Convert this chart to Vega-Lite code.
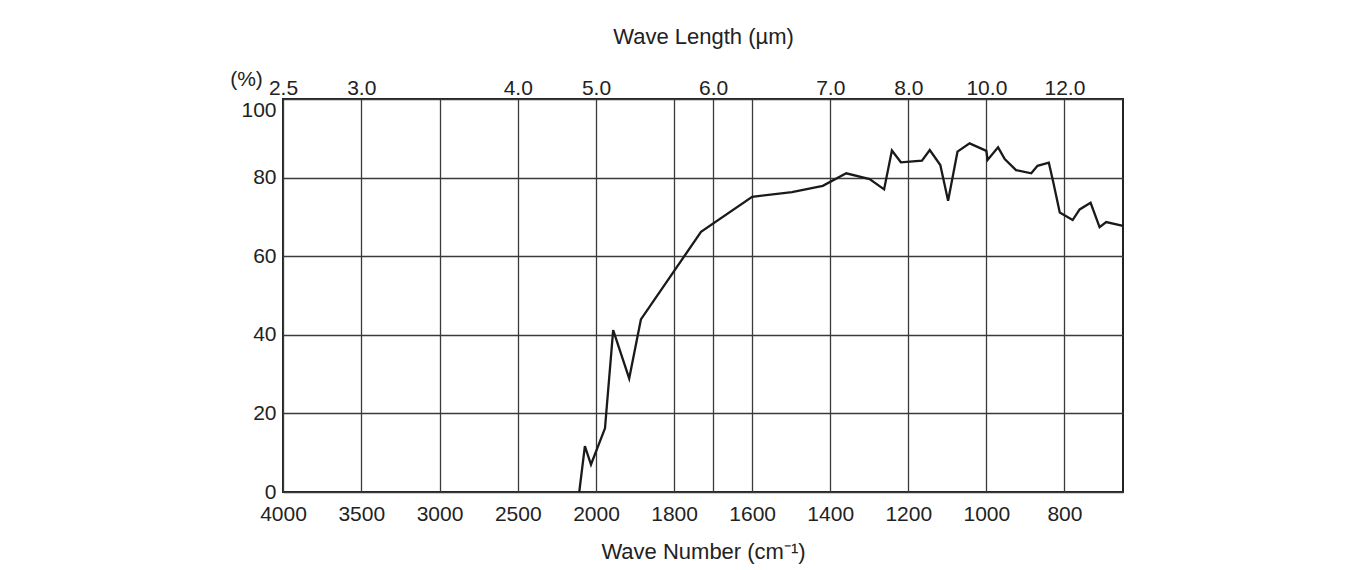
{
  "$schema": "https://vega.github.io/schema/vega-lite/v6.json",
  "width": 840,
  "height": 393,
  "autosize": {"type": "none"},
  "padding": {"left": 283, "top": 99, "right": 239, "bottom": 78},
  "background": "white",
  "config": {
    "view": {"stroke": "#222222", "strokeWidth": 2},
    "axis": {
      "labelFont": "Liberation Sans",
      "titleFont": "Liberation Sans",
      "labelFontSize": 21,
      "titleFontSize": 22,
      "labelColor": "#222222",
      "titleColor": "#222222",
      "titleFontWeight": "normal",
      "domain": false,
      "ticks": false,
      "tickSize": 0,
      "gridColor": "#3a3a3a",
      "gridWidth": 1.3,
      "gridOpacity": 1
    }
  },
  "data": {
    "values": [
      {"wn": 2107, "t": 0},
      {"wn": 2071, "t": 11.7},
      {"wn": 2032, "t": 7.0},
      {"wn": 1977, "t": 16.2},
      {"wn": 1956, "t": 41.2},
      {"wn": 1915, "t": 28.9},
      {"wn": 1885, "t": 43.9},
      {"wn": 1731, "t": 66.2},
      {"wn": 1600, "t": 75.1},
      {"wn": 1498, "t": 76.3},
      {"wn": 1419, "t": 77.9},
      {"wn": 1359, "t": 81.1},
      {"wn": 1299, "t": 79.6},
      {"wn": 1262, "t": 77.0},
      {"wn": 1242, "t": 86.9},
      {"wn": 1219, "t": 83.9},
      {"wn": 1165, "t": 84.3},
      {"wn": 1145, "t": 87.0},
      {"wn": 1118, "t": 83.2},
      {"wn": 1098, "t": 74.1},
      {"wn": 1074, "t": 86.6},
      {"wn": 1043, "t": 88.7},
      {"wn": 1000, "t": 86.8},
      {"wn": 997, "t": 84.5},
      {"wn": 970, "t": 87.7},
      {"wn": 953, "t": 84.7},
      {"wn": 924, "t": 81.9},
      {"wn": 885, "t": 81.1},
      {"wn": 869, "t": 83.0},
      {"wn": 840, "t": 83.8},
      {"wn": 829, "t": 79.0},
      {"wn": 812, "t": 71.1},
      {"wn": 779, "t": 69.2},
      {"wn": 761, "t": 71.9},
      {"wn": 733, "t": 73.6},
      {"wn": 710, "t": 67.4},
      {"wn": 693, "t": 68.7},
      {"wn": 650, "t": 67.7}
    ]
  },
  "encoding": {
    "y": {
      "field": "t",
      "type": "quantitative",
      "scale": {"domain": [0, 100], "nice": false, "zero": true},
      "axis": {
        "values": [0, 20, 40, 60, 80, 100],
        "grid": true,
        "labelPadding": 7,
        "labelBaseline": {"condition": {"test": "datum.value == 100", "value": "top"}, "value": "middle"},
        "title": "(%)",
        "titleAngle": 0,
        "titleAlign": "center",
        "titleBaseline": "middle",
        "titleX": -37,
        "titleY": -20,
        "titleFontSize": 21
      }
    }
  },
  "layer": [
    {
      "mark": {"type": "line", "color": "#1a1a1a", "strokeWidth": 2.3},
      "encoding": {
        "x": {
          "field": "wn",
          "type": "quantitative",
          "scale": {"domain": [4000, 2000, 650], "range": [0, 313, 840], "nice": false, "zero": false},
          "axis": {
            "orient": "bottom",
            "values": [4000, 3500, 3000, 2500, 2000, 1800, 1700, 1600, 1400, 1200, 1000, 800],
            "format": "d",
            "labelExpr": "datum.value == 1700 ? '' : datum.label",
            "labelPadding": 11,
            "labelFlush": false,
            "grid": true,
            "title": "Wave Number (cm⁻¹)",
            "titleY": 66,
            "titleBaseline": "alphabetic"
          }
        }
      }
    },
    {
      "mark": {"type": "line", "opacity": 0},
      "encoding": {
        "x": {
          "field": "wn",
          "type": "quantitative",
          "scale": {"domain": [4000, 2000, 650], "range": [0, 313, 840], "nice": false, "zero": false},
          "axis": {
            "orient": "top",
            "values": [4000, 3500, 2500, 2000, 1700, 1400, 1200, 1000, 800],
            "labelExpr": "datum.value == 4000 ? '2.5' : datum.value == 3500 ? '3.0' : datum.value == 2500 ? '4.0' : datum.value == 2000 ? '5.0' : datum.value == 1700 ? '6.0' : datum.value == 1400 ? '7.0' : datum.value == 1200 ? '8.0' : datum.value == 1000 ? '10.0' : '12.0'",
            "labelPadding": 1,
            "labelFlush": false,
            "grid": false,
            "title": "Wave Length (µm)",
            "titleY": -56,
            "titleBaseline": "alphabetic"
          }
        }
      }
    }
  ],
  "resolve": {"axis": {"x": "independent"}}
}
